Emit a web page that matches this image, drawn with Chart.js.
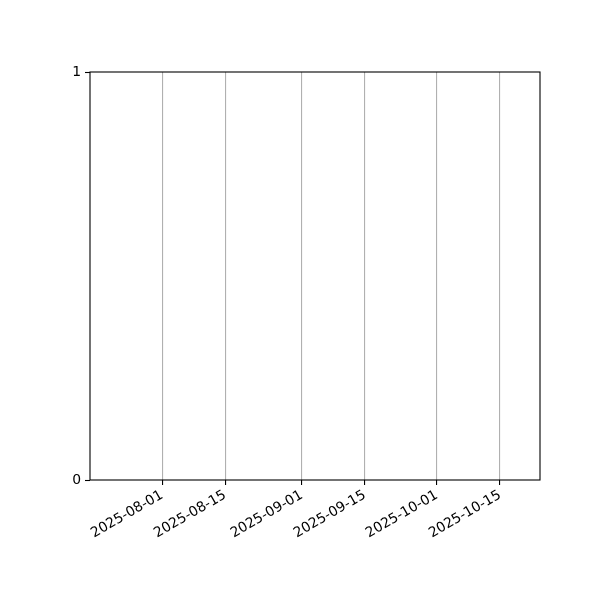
<!DOCTYPE html>
<html>
<head>
<meta charset="utf-8">
<script src="https://cdn.jsdelivr.net/npm/chart.js@4"></script>
<style>
html,body{margin:0;padding:0;background:#fff;}
#wrap{width:600px;height:600px;}
</style>
</head>
<body>
<div id="wrap"><canvas id="c" width="600" height="600"></canvas></div>
<script>
// Data (the reference plot contains no data points)
const seriesDates = [];
const seriesValues = [];
const xTickLabels = ['2025-08-01','2025-08-15','2025-09-01','2025-09-15','2025-10-01','2025-10-15'];
const xRange = ['2025-07-16T00:00:00Z','2025-10-23T21:00:00Z'];
const yTicks = [0, 1];

const DAY = 86400000;
const toDay = s => Date.parse(s.length === 10 ? s + 'T00:00:00Z' : s) / DAY;
const pad = n => String(n).padStart(2,'0');
const fmtDay = d => { const t = new Date(Math.round(d) * DAY); return t.getUTCFullYear() + '-' + pad(t.getUTCMonth()+1) + '-' + pad(t.getUTCDate()); };

const points = seriesDates.map((d,i) => ({x: toDay(d), y: seriesValues[i]}));

const spines = {
  id: 'spines',
  afterDraw(chart) {
    const {ctx, chartArea: a} = chart;
    ctx.save();
    ctx.strokeStyle = '#000';
    ctx.lineWidth = 1.1;
    ctx.strokeRect(a.left, a.top, a.right - a.left, a.bottom - a.top);
    ctx.restore();
  }
};

const font = {family: '"DejaVu Sans", sans-serif', size: 13.9};

new Chart(document.getElementById('c'), {
  type: 'line',
  data: { datasets: [{ data: points, borderColor: '#1f77b4', pointRadius: 0 }] },
  options: {
    responsive: false,
    animation: false,
    devicePixelRatio: 1,
    layout: { padding: { left: 0, right: 60, top: 72, bottom: 0 } },
    plugins: { legend: { display: false }, tooltip: { enabled: false } },
    scales: {
      x: {
        type: 'linear',
        min: toDay(xRange[0]),
        max: toDay(xRange[1]),
        afterBuildTicks: s => { s.ticks = xTickLabels.map(l => ({ value: toDay(l) })); },
        afterFit: s => { s.height = 120; },
        ticks: {
          autoSkip: false,
          maxRotation: 30,
          minRotation: 30,
          color: '#000',
          font: font,
          padding: 2,
          callback: v => fmtDay(v)
        },
        grid: { color: '#b0b0b0', lineWidth: 1.1, drawTicks: true, tickLength: 5, tickColor: '#000', tickWidth: 1.1 },
        border: { display: false }
      },
      y: {
        type: 'linear',
        min: yTicks[0],
        max: yTicks[yTicks.length - 1],
        afterBuildTicks: s => { s.ticks = yTicks.map(v => ({ value: v })); },
        afterFit: s => { s.width = 90; },
        ticks: { color: '#000', font: font, padding: 4, callback: v => String(v) },
        grid: { drawOnChartArea: false, drawTicks: true, tickLength: 5, tickColor: '#000', tickWidth: 1.1 },
        border: { display: false }
      }
    }
  },
  plugins: [spines]
});
</script>
</body>
</html>
